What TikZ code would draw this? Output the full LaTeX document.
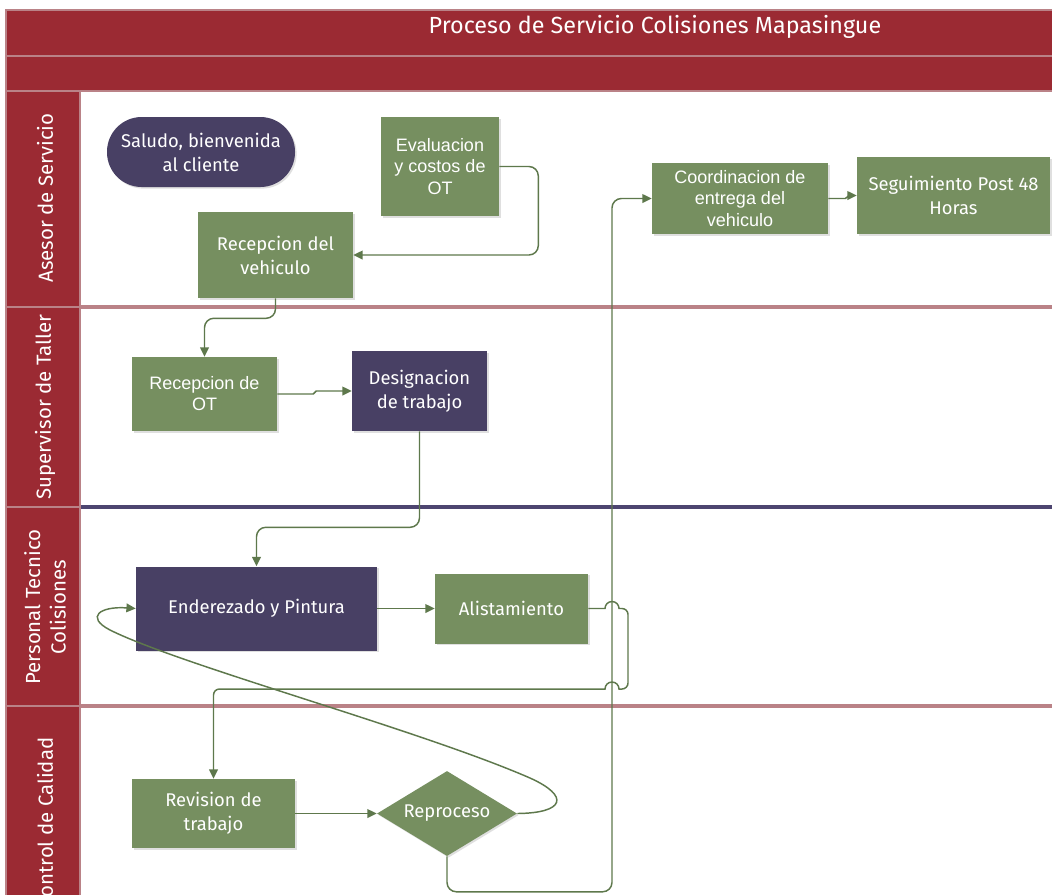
\documentclass[tikz,border=0pt]{standalone}
\usepackage{fontspec}
\setmainfont{Fira Sans}
\newfontfamily\arialf{Liberation Sans}
\usetikzlibrary{shapes.geometric,arrows.meta,shadows}
\definecolor{bandred}{HTML}{9B2A33}
\definecolor{bandedge}{HTML}{BA8287}
\definecolor{taskgreen}{HTML}{768F60}
\definecolor{taskpurple}{HTML}{484064}
\definecolor{flowline}{HTML}{5E784C}
\definecolor{lanepurple}{HTML}{4D4570}
\tikzset{
  task/.style={draw=none, inner sep=1pt, text=white, align=center,
    font=\fontsize{13.8}{18}\selectfont,
    drop shadow={shadow xshift=1.2pt,shadow yshift=-1.2pt,opacity=0.25}},
  green/.style={fill=taskgreen},
  purple/.style={fill=taskpurple},
  arialtext/.style={font=\arialf\fontsize{13.5}{15.8}\selectfont},
  lanelabel/.style={rotate=90, text=white, align=center, font=\fontsize{15.3}{19}\selectfont},
  cell/.style={fill=bandred, draw=bandedge, line width=1.8pt},
  sep/.style={line width=2.4pt},
  flow/.style={draw=flowline, line width=1.1pt, -{Triangle[length=7pt,width=6.5pt]}}
}
\begin{document}
\begin{tikzpicture}[x=0.75pt,y=-0.75pt]
\useasboundingbox (0,0) rectangle (1052,894);
\clip (0,0) rectangle (1052,894);
\fill[white] (0,0) rectangle (1052,894);

% header bars
\draw[cell] (6,10) rectangle (1062,56);
\draw[cell] (6,56) rectangle (1062,91);
\node[text=white, font=\fontsize{17.5}{20}\selectfont] (title) at (655,27) {Proceso de Servicio Colisiones Mapasingue};

% lane separators
\draw[sep, bandedge] (80,307) -- (1062,307);
\draw[sep, lanepurple] (80,507) -- (1062,507);
\draw[sep, bandedge] (80,706) -- (1062,706);

% lane label cells
\draw[cell] (6,91) rectangle (80,307);
\draw[cell] (6,307) rectangle (80,507);
\draw[cell] (6,507) rectangle (80,706);
\draw[cell] (6,706) rectangle (80,960);
\node[lanelabel] (l1) at (45,198) {Asesor de Servicio};
\node[lanelabel] (l2) at (45,407) {Supervisor de Taller};
\node[lanelabel] (l3) at (45,607) {Personal Tecnico\\Colisiones};
\node[lanelabel] (l4) at (45,823) {Control de Calidad};

% tasks
\node[task, purple, rounded corners=26pt, minimum width=141pt, minimum height=52.5pt] (saludo) at (201,152) {Saludo, bienvenida\\al cliente};
\node[task, green, arialtext, minimum width=88.5pt, minimum height=74.25pt] (eval) at (440,166.5) {Evaluacion\\y costos de\\OT};
\node[task, green, minimum width=116.25pt, minimum height=64.5pt] (recveh) at (275.5,255) {Recepcion del\\vehiculo};
\node[task, green, arialtext, minimum width=132pt, minimum height=53.25pt] (coord) at (740,198.5) {Coordinacion de\\entrega del\\vehiculo};
\node[task, green, minimum width=144.75pt, minimum height=57.75pt] (segui) at (953.5,195.5) {Seguimiento Post 48\\Horas};
\node[task, green, arialtext, minimum width=108.75pt, minimum height=55.5pt] (recot) at (204.5,394) {Recepcion de\\OT};
\node[task, purple, minimum width=101.25pt, minimum height=60pt] (design) at (419.5,391) {Designacion\\de trabajo};
\node[task, purple, minimum width=180.75pt, minimum height=63pt] (ender) at (256.5,608.5) {Enderezado y Pintura};
\node[task, green, minimum width=114.75pt, minimum height=52.5pt] (alist) at (511.5,608.5) {Alistamiento};
\node[task, green, minimum width=122.25pt, minimum height=51.75pt] (revis) at (213.5,813.5) {Revision de\\trabajo};
\node[task, green, shape=diamond, inner sep=0pt, aspect=1.65, minimum width=105pt, minimum height=63.75pt] (repro) at (447,813.5) {Reproceso};

% flow
\draw[flow, rounded corners=7] (eval.east) -- ++(39,0) |- (recveh.east);
\draw[flow, rounded corners=7] (recveh.south) -- ++(0,20) -| (recot.north);
\draw[flow] (recot.east) -- ++(36,0) -- ++(3,-3) -- (design.west);
\draw[flow, rounded corners=7] (design.south) -- ++(0,96) -| (ender.north);
\draw[flow] (ender.east) -- (alist.west);
\draw[flow] (alist.east) -- (605,608.5)
  arc[start angle=180,end angle=360,radius=7] -- (622,608.5)
  arc[start angle=-90,end angle=0,radius=6] -- (628,683)
  arc[start angle=0,end angle=90,radius=6] -- (619,689)
  arc[start angle=0,end angle=-180,radius=7] -- (219.5,689)
  arc[start angle=-90,end angle=-180,radius=6] -- (revis.north);
\draw[flow] (revis.east) -- (repro.west);
\draw[flow] (repro.east) .. controls (565,813) and (570,796) .. (530,778)
  .. controls (420,730) and (180,665) .. (110,630)
  .. controls (85,617) and (100,606) .. (ender.west);
\draw[flow, rounded corners=7] (repro.south) -- ++(0,35.5) -| (612,198.5) -- (coord.west);
\draw[flow] (coord.east) -- ++(17,0) -- ++(4,-3) -- (segui.west);
\end{tikzpicture}
\end{document}
